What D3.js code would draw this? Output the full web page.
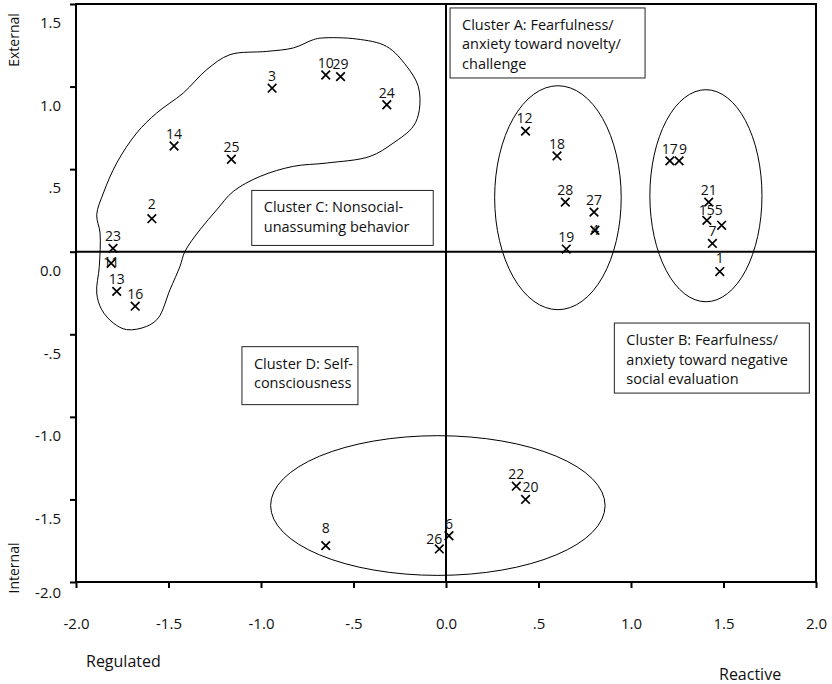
<!DOCTYPE html>
<html>
<head>
<meta charset="utf-8">
<script src="https://cdn.jsdelivr.net/npm/d3@7"></script>
<style>
  html, body { margin: 0; padding: 0; background: #fff; }
  svg { display: block; }
  text { font-family: "Open Sans", "Noto Sans", sans-serif; fill: #111; }
</style>
</head>
<body>
<svg id="chart" width="832" height="684"></svg>
<script>
// ---------------- data ----------------
const xTickValues = [-2, -1.5, -1, -0.5, 0, 0.5, 1, 1.5, 2];
const xTickLabels = ["-2.0", "-1.5", "-1.0", "-.5", "0.0", ".5", "1.0", "1.5", "2.0"];
const yTickValues = [-2, -1.5, -1, -0.5, 0, 0.5, 1, 1.5];
const yTickLabels = ["-2.0", "-1.5", "-1.0", "-.5", "0.0", ".5", "1.0", "1.5"];

const pointIds = [1, 2, 3, 4, 5, 6, 7, 8, 9, 10, 11, 12, 13, 14, 15, 16, 17, 18, 19, 20, 21, 22, 23, 24, 25, 26, 27, 28, 29];
const pointX = [1.48, -1.59, -0.94, 0.805, 1.49, 0.016, 1.44, -0.65, 1.26, -0.65, -1.81, 0.43, -1.78, -1.47, 1.41, -1.68, 1.21, 0.60, 0.65, 0.43, 1.42, 0.38, -1.80, -0.32, -1.16, -0.036, 0.80, 0.645, -0.57];
const pointY = [-0.12, 0.20, 0.99, 0.13, 0.16, -1.72, 0.05, -1.78, 0.55, 1.07, -0.07, 0.73, -0.24, 0.64, 0.19, -0.33, 0.55, 0.58, 0.016, -1.50, 0.30, -1.42, 0.02, 0.89, 0.56, -1.80, 0.24, 0.30, 1.06];

// cluster ellipses (centre x, centre y, radius x, radius y) in data units
const ellipseNames = ["A", "B", "D"];
const ellipseCx = [0.605, 1.405, -0.044];
const ellipseCy = [0.327, 0.339, -1.537];
const ellipseRx = [0.342, 0.303, 0.904];
const ellipseRy = [0.678, 0.642, 0.423];

// cluster C hand-drawn outline (data units)
const blobX = [-0.672, -0.483, -0.321, -0.212, -0.150, -0.144, -0.177, -0.285, -0.411, -0.645, -0.825, -1.005, -1.150, -1.239, -1.330, -1.411, -1.438, -1.492, -1.555, -1.618, -1.726, -1.798, -1.861, -1.888, -1.874, -1.870, -1.888, -1.852, -1.780, -1.672, -1.564, -1.420, -1.294, -1.168, -0.969, -0.825, -0.717];
const blobY = [1.294, 1.288, 1.243, 1.122, 1.001, 0.860, 0.759, 0.658, 0.577, 0.537, 0.517, 0.456, 0.365, 0.254, 0.133, 0.002, -0.089, -0.230, -0.401, -0.452, -0.472, -0.432, -0.351, -0.250, -0.089, 0.113, 0.224, 0.355, 0.537, 0.719, 0.840, 0.961, 1.102, 1.193, 1.213, 1.234, 1.284];

// cluster annotation boxes
const boxTexts = [
  ["Cluster A: Fearfulness/", "anxiety toward novelty/", "challenge"],
  ["Cluster B: Fearfulness/", "anxiety toward negative", "social evaluation"],
  ["Cluster C: Nonsocial-", "unassuming behavior"],
  ["Cluster D: Self-", "consciousness"]
];
const boxX0 = [0.022, 0.910, -1.050, -1.103];
const boxX1 = [1.076, 1.964, -0.069, -0.476];
const boxY0 = [1.476, -0.432, 0.371, -0.575];
const boxY1 = [1.052, -0.856, 0.038, -0.926];

// ---------------- layout / style ----------------
const svg = d3.select("#chart");
svg.append("rect").attr("width", 832).attr("height", 684).attr("fill", "#fff");

const x = d3.scaleLinear().domain([-2, 2]).range([76, 816]);
const y = d3.scaleLinear().domain([-2, 1.5]).range([582, 4]);

// label nudges (px) for point numbers
const labelNudge = {4: [0, 12], 11: [0, 11], 26: [-5, 2], 20: [5, 0], 8: [0, -6], 2: [0, -3],
                    9: [4, 0], 15: [0, 2], 5: [-3, -3], 1: [0, -2], 29: [0, -1], 12: [-1, -1]};

// ellipses
const g = svg.append("g");
ellipseNames.forEach((n, i) => {
  g.append("ellipse")
    .attr("cx", x(ellipseCx[i]))
    .attr("cy", y(ellipseCy[i]))
    .attr("rx", x(ellipseRx[i]) - x(0))
    .attr("ry", y(0) - y(ellipseRy[i]))
    .attr("fill", "none").attr("stroke", "#000").attr("stroke-width", 1);
});

// blob
const blobPts = blobX.map((v, i) => [x(v), y(blobY[i])]);
g.append("path")
  .attr("d", d3.line().curve(d3.curveCatmullRomClosed.alpha(0.5))(blobPts))
  .attr("fill", "none").attr("stroke", "#000").attr("stroke-width", 1);

// boxes
boxTexts.forEach((lines, i) => {
  const bx = x(boxX0[i]), by = y(boxY0[i]);
  g.append("rect")
    .attr("x", bx).attr("y", by)
    .attr("width", x(boxX1[i]) - bx).attr("height", y(boxY1[i]) - by)
    .attr("fill", "#fff").attr("stroke", "#222").attr("stroke-width", 1);
  lines.forEach((t, j) => {
    g.append("text")
      .attr("x", bx + 12).attr("y", by + 22 + j * 19.5)
      .attr("font-size", 14.5).text(t);
  });
});

// zero lines
svg.append("line").attr("x1", x(-2)).attr("x2", x(2)).attr("y1", y(0)).attr("y2", y(0))
  .attr("stroke", "#000").attr("stroke-width", 2);
svg.append("line").attr("x1", x(0)).attr("x2", x(0)).attr("y1", y(1.5)).attr("y2", y(-2))
  .attr("stroke", "#000").attr("stroke-width", 2);

// frame
svg.append("rect").attr("x", x(-2)).attr("y", y(1.5))
  .attr("width", x(2) - x(-2)).attr("height", y(-2) - y(1.5))
  .attr("fill", "none").attr("stroke", "#000").attr("stroke-width", 2);

// axes
const xAxis = svg.append("g").attr("transform", `translate(0,${y(-2)})`)
  .call(d3.axisBottom(x).tickValues(xTickValues)
    .tickFormat((d, i) => xTickLabels[i]).tickSize(6).tickPadding(30).tickSizeOuter(0));
xAxis.select(".domain").remove();
xAxis.selectAll("line").attr("stroke", "#000").attr("stroke-width", 2);
xAxis.selectAll("text").attr("font-size", 15).attr("font-family", "Open Sans").attr("fill", "#111");

const yAxis = svg.append("g").attr("transform", `translate(${x(-2)},0)`)
  .call(d3.axisLeft(y).tickValues(yTickValues)
    .tickFormat((d, i) => yTickLabels[i]).tickSize(6).tickPadding(9).tickSizeOuter(0));
yAxis.select(".domain").remove();
yAxis.selectAll("line").attr("stroke", "#000").attr("stroke-width", 2);
yAxis.selectAll("text").attr("font-size", 15).attr("font-family", "Open Sans").attr("fill", "#111")
  .attr("y", d => (d === -2 ? 11 : 19));

// axis titles
svg.append("text").attr("x", 86).attr("y", 667).attr("font-size", 16).text("Regulated");
svg.append("text").attr("x", 719).attr("y", 680).attr("font-size", 16).text("Reactive");
svg.append("text").attr("transform", "translate(19,40) rotate(-90)")
  .attr("text-anchor", "middle").attr("font-size", 14).text("External");
svg.append("text").attr("transform", "translate(19,568) rotate(-90)")
  .attr("text-anchor", "middle").attr("font-size", 14).text("Internal");

// points
const pts = pointIds.map((id, i) => ({id, px: x(pointX[i]), py: y(pointY[i])}));
const pg = svg.append("g");
pg.selectAll("text.lbl").data(pts).join("text")
  .attr("class", "lbl")
  .attr("x", d => d.px + (labelNudge[d.id] ? labelNudge[d.id][0] : 0))
  .attr("y", d => d.py - 7 + (labelNudge[d.id] ? labelNudge[d.id][1] : 0))
  .attr("text-anchor", "middle").attr("font-size", 14)
  .text(d => d.id);
const s = 4.3;
pg.selectAll("path.mark").data(pts).join("path")
  .attr("class", "mark")
  .attr("d", d => `M${d.px - s},${d.py - s}L${d.px + s},${d.py + s}M${d.px - s},${d.py + s}L${d.px + s},${d.py - s}`)
  .attr("stroke", "#000").attr("stroke-width", 1.7).attr("fill", "none");
</script>
</body>
</html>
